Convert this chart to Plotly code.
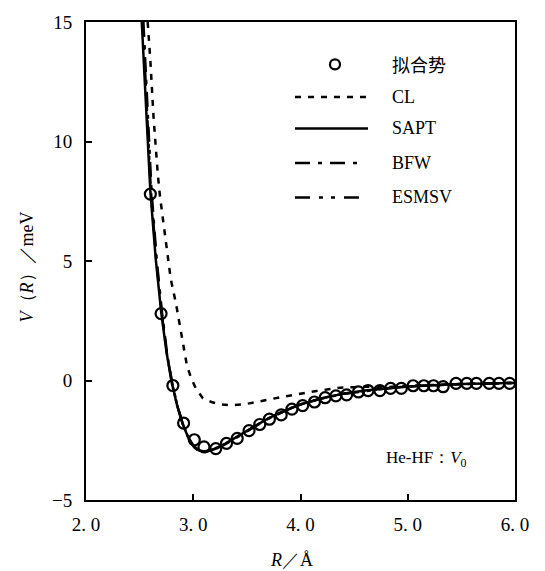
import plotly.graph_objects as go

# ---- data ----
fit_R = [2.60, 2.70, 2.81, 2.91, 3.01, 3.10, 3.21, 3.31, 3.41, 3.52, 3.62, 3.71,
         3.82, 3.92, 4.02, 4.13, 4.23, 4.33, 4.43, 4.54, 4.63, 4.74, 4.84, 4.94,
         5.05, 5.15, 5.24, 5.33, 5.45, 5.55, 5.64, 5.76, 5.85, 5.95]
fit_V = [7.80, 2.80, -0.21, -1.78, -2.48, -2.78, -2.85, -2.63, -2.42, -2.10, -1.84, -1.62,
         -1.44, -1.20, -1.05, -0.90, -0.72, -0.64, -0.60, -0.48, -0.42, -0.42, -0.33, -0.33,
         -0.22, -0.22, -0.22, -0.26, -0.12, -0.12, -0.12, -0.12, -0.12, -0.12]

cl_R = [2.575, 2.60, 2.63, 2.65, 2.67, 2.69, 2.74, 2.79, 2.84, 2.89, 2.94, 2.98, 3.03,
        3.09, 3.17, 3.25, 3.35, 3.47, 3.58, 3.69, 3.81, 3.93, 4.04, 4.15, 4.26, 4.37,
        4.50, 4.62, 4.80, 5.00, 5.50, 6.00]
cl_V = [15.0, 13.4, 11.0, 9.6, 8.6, 7.7, 5.9, 4.25, 3.2, 2.0, 0.65, 0.1, -0.38,
        -0.74, -0.90, -1.00, -1.03, -1.00, -0.92, -0.81, -0.70, -0.60, -0.52, -0.44, -0.37, -0.30,
        -0.28, -0.26, -0.28, -0.22, -0.15, -0.10]

sapt_R = [2.52, 2.55, 2.58, 2.60, 2.65, 2.70, 2.75, 2.80, 2.85, 2.90, 2.95, 3.00, 3.05,
          3.10, 3.15, 3.20, 3.30, 3.40, 3.50, 3.60, 3.70, 3.80, 3.90, 4.00, 4.20, 4.40,
          4.60, 4.80, 5.00, 5.50, 6.00]
sapt_V = [15.0, 12.3, 9.6, 7.9, 5.1, 2.9, 1.2, -0.1, -1.05, -1.8, -2.35, -2.72, -2.92,
          -2.97, -2.93, -2.85, -2.64, -2.38, -2.10, -1.83, -1.58, -1.37, -1.17, -1.00, -0.74, -0.55,
          -0.42, -0.32, -0.25, -0.15, -0.10]

bfw_R = [2.535, 2.56, 2.59, 2.61, 2.66, 2.71, 2.76, 2.81, 2.86, 2.91, 2.96, 3.01, 3.06,
         3.11, 3.20, 3.30, 3.40, 3.50, 3.60, 3.70, 3.80, 3.90, 4.00, 4.20, 4.40, 4.60,
         4.80, 5.00, 5.50, 6.00]
bfw_V = [15.0, 12.5, 9.8, 8.0, 5.0, 2.8, 1.0, -0.25, -1.2, -1.9, -2.45, -2.8, -2.98,
         -3.00, -2.88, -2.66, -2.40, -2.12, -1.85, -1.60, -1.38, -1.18, -1.01, -0.75, -0.56, -0.43,
         -0.33, -0.25, -0.15, -0.10]

esm_R = [2.53, 2.555, 2.585, 2.605, 2.655, 2.705, 2.755, 2.805, 2.855, 2.905, 2.955, 3.005,
         3.055, 3.105, 3.20, 3.30, 3.40, 3.50, 3.60, 3.70, 3.80, 3.90, 4.00, 4.20, 4.40,
         4.60, 4.80, 5.00, 5.50, 6.00]
esm_V = [15.0, 12.4, 9.7, 7.95, 5.05, 2.85, 1.1, -0.18, -1.12, -1.85, -2.4, -2.76, -2.95,
         -2.98, -2.87, -2.65, -2.39, -2.11, -1.84, -1.59, -1.38, -1.17, -1.00, -0.74, -0.55,
         -0.42, -0.32, -0.25, -0.15, -0.10]

x_ticks = [2.0, 3.0, 4.0, 5.0, 6.0]
x_ticktext = ["2. 0", "3. 0", "4. 0", "5. 0", "6. 0"]
y_ticks = [-5, 0, 5, 10, 15]

legend_names = ["拟合势", "CL", "SAPT", "BFW", "ESMSV"]

SERIF = "Liberation Serif, Times New Roman, serif"
CJK = "Noto Sans CJK SC"
W, H = 545, 571
L, R, T, B = 86, 30, 15, 71
PW, PH = W - L - R, H - T - B

DASH_CL = "6px,7px"
DASH_BFW = "15px,8px,4px,8px"
DASH_ESM = "15px,9px,4px,8px,4px,9px"
LW = 2.5

fig = go.Figure()
fig.add_trace(go.Scatter(x=cl_R, y=cl_V, mode="lines",
                         line=dict(color="black", width=LW, dash=DASH_CL)))
fig.add_trace(go.Scatter(x=bfw_R, y=bfw_V, mode="lines",
                         line=dict(color="black", width=LW, dash=DASH_BFW)))
fig.add_trace(go.Scatter(x=esm_R, y=esm_V, mode="lines",
                         line=dict(color="black", width=LW, dash=DASH_ESM)))
fig.add_trace(go.Scatter(x=sapt_R, y=sapt_V, mode="lines",
                         line=dict(color="black", width=LW)))
fig.add_trace(go.Scatter(x=fit_R, y=fit_V, mode="markers",
                         marker=dict(symbol="circle-open", size=11, color="black",
                                     line=dict(width=2.2, color="black"))))

def px2paper(px, py):
    return (px - L) / PW, (H - B - py) / PH

shapes = []
annotations = []
# manual legend
leg_y = [58, 91, 123, 158, 193]
x0p, _ = px2paper(295, 0)
x1p, _ = px2paper(368, 0)
x1p_short, _ = px2paper(363, 0)
cx, cy = px2paper(335, leg_y[0])
rx, ry = 5 / PW, 5 / PH
shapes.append(dict(type="circle", xref="paper", yref="paper",
                   x0=cx - rx, x1=cx + rx, y0=cy - ry, y1=cy + ry,
                   line=dict(color="black", width=2.2)))
dashes = [DASH_CL, "solid", DASH_BFW, DASH_ESM]
ends = [x1p, x1p, x1p_short, x1p_short]
for i, d in enumerate(dashes):
    _, yp = px2paper(0, leg_y[i + 1])
    shapes.append(dict(type="line", xref="paper", yref="paper",
                       x0=x0p, x1=ends[i], y0=yp, y1=yp,
                       line=dict(color="black", width=LW, dash=d)))
tx, _ = px2paper(390, 0)
for i, name in enumerate(legend_names):
    _, yp = px2paper(0, leg_y[i])
    annotations.append(dict(xref="paper", yref="paper", x=tx, y=yp, text=name,
                            showarrow=False, xanchor="left", yanchor="middle",
                            font=dict(family=CJK if i == 0 else SERIF, size=18,
                                      color="black")))

# inner label
lx, ly = px2paper(384, 458)
annotations.append(dict(xref="paper", yref="paper", x=lx, y=ly,
                        text="He-HF：<i>V</i><sub>0</sub>",
                        showarrow=False, xanchor="left", yanchor="middle",
                        font=dict(family=SERIF, size=17, color="black")))
# axis titles
ax, ay = px2paper(291, 561)
annotations.append(dict(xref="paper", yref="paper", x=ax, y=ay,
                        text="<i>R</i>／Å", showarrow=False,
                        xanchor="center", yanchor="middle",
                        font=dict(family=SERIF, size=18, color="black")))
bx, by = px2paper(27, 264)
annotations.append(dict(xref="paper", yref="paper", x=bx, y=by,
                        text="<i>V</i>（<i>R</i>）／meV", showarrow=False, textangle=-90,
                        xanchor="center", yanchor="middle",
                        font=dict(family=SERIF, size=18, color="black")))

fig.update_layout(
    width=W, height=H,
    margin=dict(l=L, r=R, t=T, b=B),
    paper_bgcolor="white", plot_bgcolor="white",
    showlegend=False,
    shapes=shapes, annotations=annotations,
    font=dict(family=SERIF, size=17, color="black"),
)
fig.update_xaxes(range=[2.0, 6.0], tickvals=x_ticks, ticktext=x_ticktext,
                 ticks="inside", ticklen=6, tickwidth=1.5, tickcolor="black",
                 showline=True, linecolor="black", linewidth=2, mirror=True,
                 showgrid=False, zeroline=False, ticklabelstandoff=6,
                 tickfont=dict(family=SERIF, size=19, color="black"))
fig.update_yaxes(range=[-5, 15], tickvals=y_ticks,
                 ticks="inside", ticklen=6, tickwidth=1.5, tickcolor="black",
                 showline=True, linecolor="black", linewidth=2, mirror=True,
                 showgrid=False, zeroline=False, ticklabelstandoff=8,
                 tickfont=dict(family=SERIF, size=19, color="black"))

fig.write_html("out.html")
